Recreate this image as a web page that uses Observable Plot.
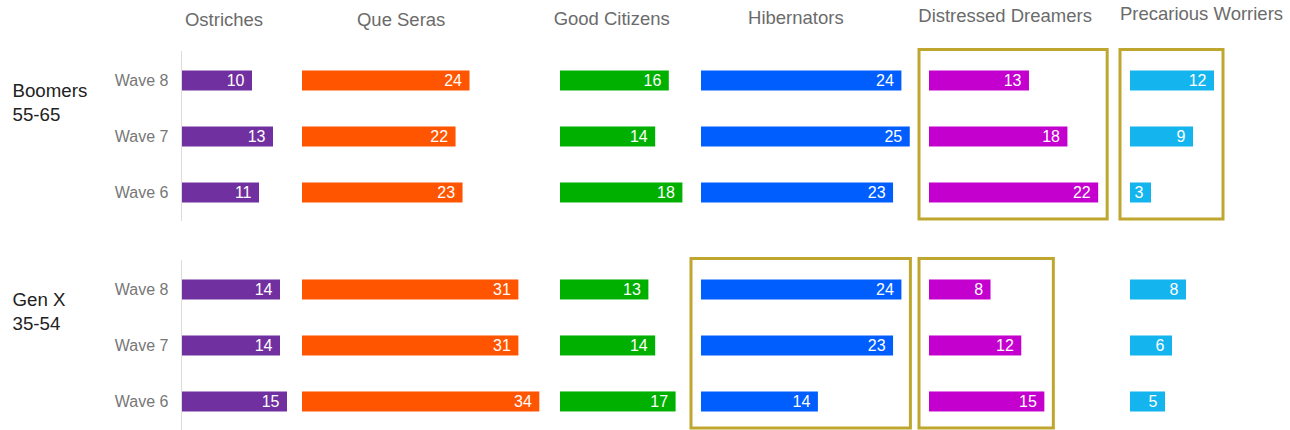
<!DOCTYPE html>
<html><head><meta charset="utf-8">
<script src="https://cdn.jsdelivr.net/npm/d3@7"></script>
<script src="https://cdn.jsdelivr.net/npm/@observablehq/plot@0.6"></script>
<style>
html,body{margin:0;padding:0;background:#fff;}
#chart{position:relative;width:1290px;height:430px;overflow:hidden;font-family:"Liberation Sans",Arial,sans-serif;}
#chart > div{position:absolute;top:0;}
</style></head><body><div id="chart"></div>
<script>
// ---- data ----
const segments = ["Ostriches","Que Seras","Good Citizens","Hibernators","Distressed Dreamers","Precarious Worriers"];
const generations = ["Boomers\n55-65","Gen X\n35-54"];
const waves = ["Wave 8","Wave 7","Wave 6"];
// values per segment, in wave order (Wave 8, Wave 7, Wave 6)
const boomersValues = [[10,13,11],[24,22,23],[16,14,18],[24,25,23],[13,18,22],[12,9,3]];
const genXValues    = [[14,14,15],[31,31,34],[13,14,17],[24,23,14],[8,12,15],[8,6,5]];
const highlightGens     = ["Boomers\n55-65","Boomers\n55-65","Gen X\n35-54","Gen X\n35-54"];
const highlightSegments = ["Distressed Dreamers","Precarious Worriers","Hibernators","Distressed Dreamers"];

// ---- styles / layout ----
const segmentColors = ["#7030A0","#FF5500","#00B000","#005EFF","#C400CE","#14B4EE"];
const boxColor = "#BFA62E";
const layout = [
  {x0:182,  k:7.0,  hdx:-11, hy:19},
  {x0:302,  k:6.98, hdx:-20, hy:19},
  {x0:560,  k:6.8,  hdx:-10, hy:18},
  {x0:701,  k:8.35, hdx:-10, hy:17},
  {x0:929,  k:7.69, hdx:-9,  hy:15},
  {x0:1130, k:7.0,  hdx:29,  hy:13}
];
const marginTop = 50.5;

const rows = [];
segments.forEach((seg, i) => {
  waves.forEach((w, j) => {
    rows.push({segment: seg, gen: generations[0], wave: w, value: boomersValues[i][j]});
    rows.push({segment: seg, gen: generations[1], wave: w, value: genXValues[i][j]});
  });
});
const highlights = highlightGens.map((g, i) => {
  const seg = highlightSegments[i];
  return {gen: g, segment: seg, max: d3.max(rows.filter(r => r.gen === g && r.segment === seg), r => r.value)};
});

const chart = document.getElementById("chart");
segments.forEach((seg, i) => {
  const L = layout[i];
  const data = rows.filter(r => r.segment === seg);
  const colMax = d3.max(data, d => d.value);
  const W = colMax * L.k;
  const marks = [];
  if (i === 0) {
    marks.push(Plot.ruleX([0], {stroke: "#dcdcdc", strokeWidth: 1, dx: -1}));
    marks.push(Plot.axisY({tickSize: 0, tickPadding: 14, fontSize: 16, color: "#777", label: null}));
    marks.push(Plot.text(generations, {fy: d => d, text: d => d, frameAnchor: "left", textAnchor: "start",
      lineAnchor: "middle", dx: -170, dy: -35, fontSize: 18.7, fill: "#222", lineHeight: 1.25}));
  }
  marks.push(Plot.barX(data, {fy: "gen", y: "wave", x: "value", fill: segmentColors[i]}));
  marks.push(Plot.text(data, {fy: "gen", y: "wave", x: "value", text: "value", textAnchor: "end",
    dx: -8, fill: "white", fontSize: 16}));
  const hl = highlights.filter(h => h.segment === seg);
  if (hl.length) {
    marks.push(Plot.rect(hl, {fy: "gen", x1: d => 0, x2: "max", insetLeft: -10, insetRight: -9,
      insetTop: -1.5, insetBottom: 2, fill: "none", stroke: boxColor, strokeWidth: 3}));
  }
  marks.push(Plot.text([seg], {fy: [generations[0]], text: d => d, frameAnchor: "top", lineAnchor: "middle",
    dx: L.hdx, dy: L.hy - marginTop, fontSize: 18.5, fill: "#6b6b6b"}));

  const p = Plot.plot({
    width: W, height: 430,
    marginTop, marginBottom: 0, marginLeft: 0, marginRight: 0,
    style: {overflow: "visible", background: "transparent", fontFamily: '"Liberation Sans", Arial, sans-serif'},
    x: {domain: [0, colMax], axis: null},
    y: {domain: waves, paddingInner: 0.649, paddingOuter: 0.316, axis: null},
    fy: {domain: generations, paddingInner: 0.1885, paddingOuter: 0, axis: null},
    marks
  });
  const div = document.createElement("div");
  div.style.left = L.x0 + "px";
  div.style.width = W + "px";
  div.appendChild(p);
  chart.appendChild(div);
});
</script></body></html>
